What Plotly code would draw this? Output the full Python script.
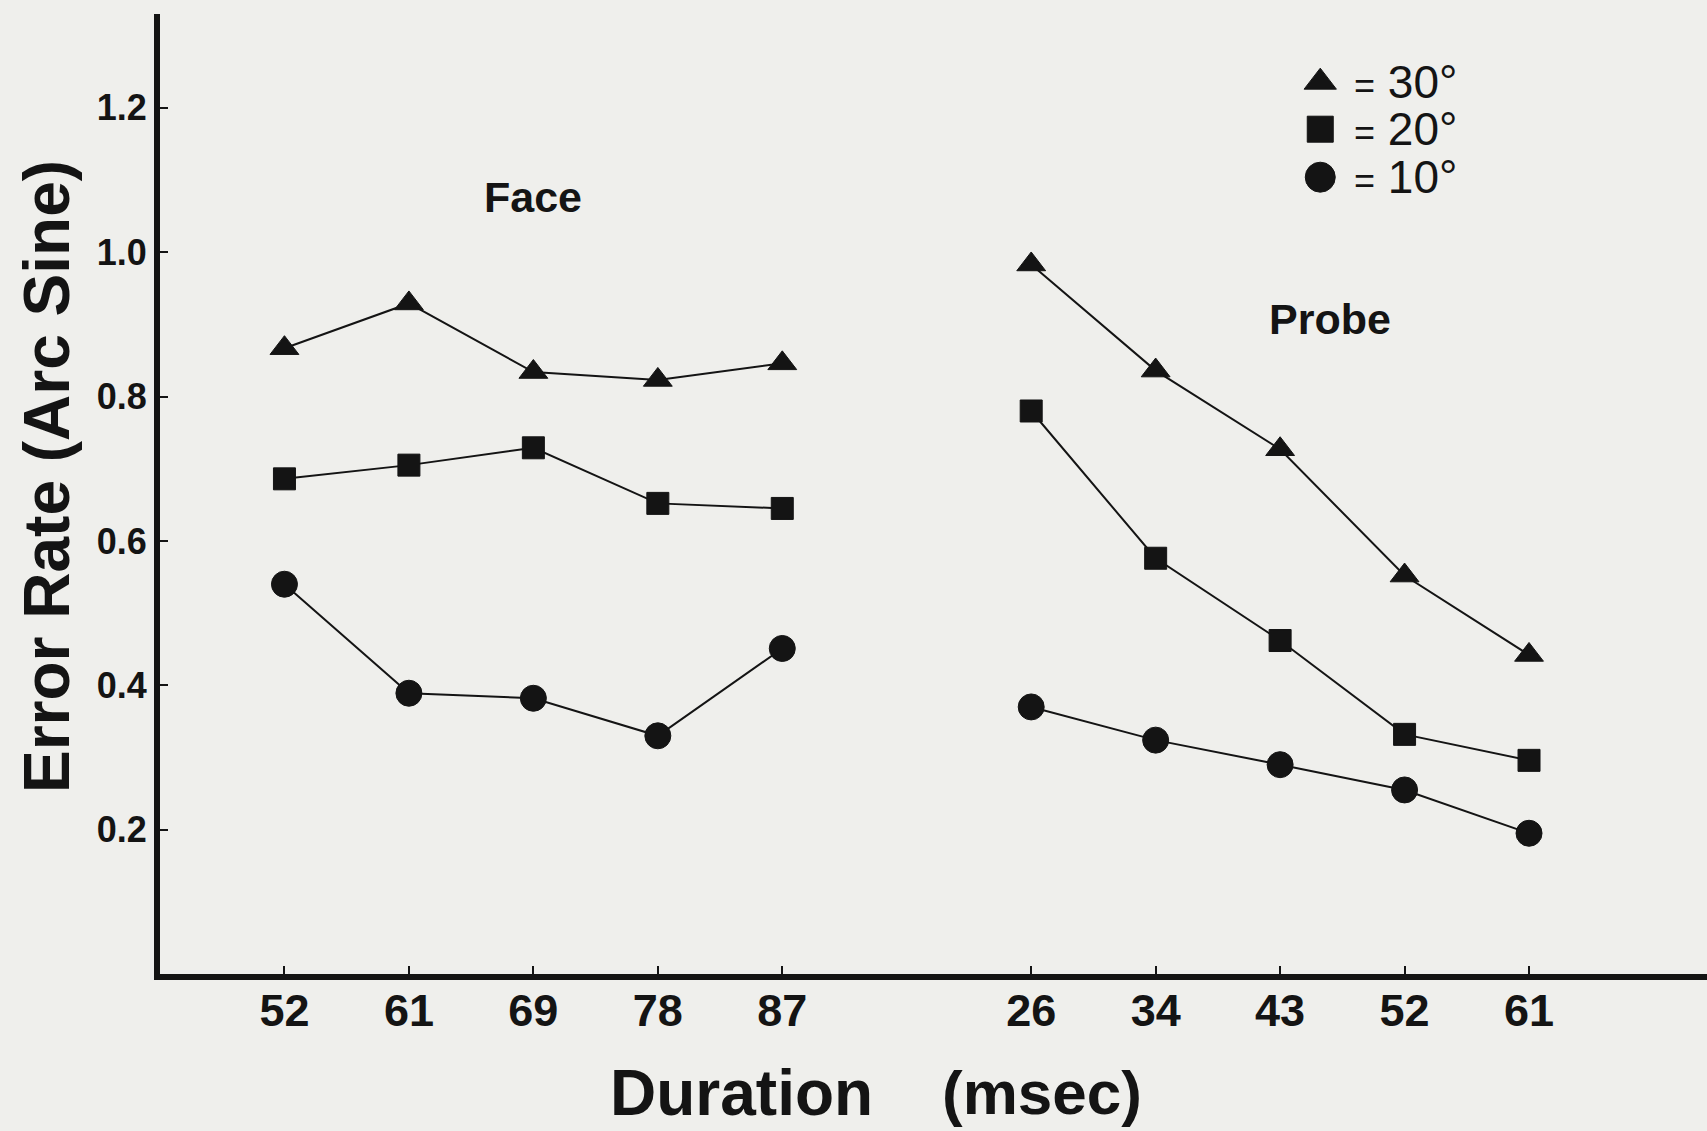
import plotly.graph_objects as go

# ---- data ----
face_durations = [52, 61, 69, 78, 87]
probe_durations = [26, 34, 43, 52, 61]

face_30 = [0.867, 0.929, 0.834, 0.823, 0.846]
face_20 = [0.686, 0.705, 0.729, 0.652, 0.645]
face_10 = [0.540, 0.389, 0.382, 0.330, 0.451]

probe_30 = [0.983, 0.836, 0.727, 0.552, 0.442]
probe_20 = [0.780, 0.576, 0.462, 0.332, 0.296]
probe_10 = [0.370, 0.324, 0.290, 0.255, 0.195]

angle_labels = ["30°", "20°", "10°"]
y_tick_values = [0.2, 0.4, 0.6, 0.8, 1.0, 1.2]

# slot positions on the axis (Face group, gap, Probe group)
face_slots = [1, 2, 3, 4, 5]
probe_slots = [7, 8, 9, 10, 11]

INK = "#141414"
BG = "#efefec"
FONT = "Liberation Sans, Arial, sans-serif"

symbols = ["triangle-up", "square", "circle"]
sizes = [25, 22, 26]
legend_sizes = [28, 26, 30]

face_series = [face_30, face_20, face_10]
probe_series = [probe_30, probe_20, probe_10]

fig = go.Figure()

for sym, sz, fvals, pvals in zip(symbols, sizes, face_series, probe_series):
    for slots, vals in ((face_slots, fvals), (probe_slots, pvals)):
        fig.add_trace(go.Scatter(
            x=slots, y=vals, mode="lines+markers",
            line=dict(color=INK, width=2),
            marker=dict(symbol=sym, size=sz, color=INK,
                        line=dict(color=INK, width=1)),
            showlegend=False, hoverinfo="skip",
        ))

# ---- custom legend (overlay axes in 0..1 units) ----
legend_x = 0.750
legend_y = [0.929, 0.880, 0.830]
for sym, sz, ly in zip(symbols, legend_sizes, legend_y):
    fig.add_trace(go.Scatter(
        x=[legend_x], y=[ly], mode="markers", xaxis="x2", yaxis="y2",
        marker=dict(symbol=sym, size=sz, color=INK, line=dict(color=INK, width=1)),
        showlegend=False, hoverinfo="skip",
    ))

annotations = []
for lab, ly in zip(angle_labels, legend_y):
    annotations.append(dict(
        xref="paper", yref="paper", x=0.7705, y=ly, xanchor="left", yanchor="middle",
        text="<span style='font-size:36px'>=</span> " + lab,
        showarrow=False, font=dict(family=FONT, size=46, color=INK),
    ))

# group labels
annotations.append(dict(x=3.00, y=1.076, xref="x", yref="y", text="<b>Face</b>",
                        showarrow=False, font=dict(family=FONT, size=43, color=INK)))
annotations.append(dict(x=9.40, y=0.908, xref="x", yref="y", text="<b>Probe</b>",
                        showarrow=False, font=dict(family=FONT, size=43, color=INK)))

# axis titles
annotations.append(dict(xref="paper", yref="paper", x=-0.0735, y=0.518,
                        xanchor="center", yanchor="middle", textangle=-90,
                        text="<b>Error Rate (Arc Sine)</b>", showarrow=False,
                        font=dict(family=FONT, size=64, color=INK)))
annotations.append(dict(xref="paper", yref="paper", x=0.376, y=-0.1235,
                        xanchor="center", yanchor="middle",
                        text="<b>Duration</b>", showarrow=False,
                        font=dict(family=FONT, size=64, color=INK)))
annotations.append(dict(xref="paper", yref="paper", x=0.570, y=-0.1235,
                        xanchor="center", yanchor="middle",
                        text="<b>(msec)</b>", showarrow=False,
                        font=dict(family=FONT, size=62, color=INK)))

fig.update_layout(
    width=1707, height=1131,
    margin=dict(l=160, r=0, t=14, b=157),
    paper_bgcolor=BG, plot_bgcolor=BG,
    showlegend=False,
    annotations=annotations,
    xaxis=dict(
        range=[0, 12.43], showgrid=False, zeroline=False,
        showline=True, linecolor=INK, linewidth=6,
        tickmode="array", tickvals=face_slots + probe_slots,
        ticktext=["<b>%d</b>" % d for d in face_durations + probe_durations],
        ticks="inside", ticklen=8, tickwidth=2, tickcolor=INK,
        ticklabelstandoff=-8,
        tickfont=dict(family=FONT, size=45, color=INK), fixedrange=True,
    ),
    yaxis=dict(
        range=[0, 1.330], showgrid=False, zeroline=False,
        showline=True, linecolor=INK, linewidth=6,
        tickmode="array", tickvals=y_tick_values,
        ticktext=["<b>%.1f</b>" % v for v in y_tick_values],
        ticks="inside", ticklen=8, tickwidth=2, tickcolor=INK,
        tickfont=dict(family=FONT, size=36, color=INK), fixedrange=True,
    ),
    xaxis2=dict(range=[0, 1], overlaying="x", visible=False, fixedrange=True),
    yaxis2=dict(range=[0, 1], overlaying="y", visible=False, fixedrange=True),
)

fig.write_html(
    "out.html",
    config={"displayModeBar": False},
    post_script=(
        "document.documentElement.style.margin='0';"
        "document.body.style.margin='0';"
        "document.body.style.overflow='hidden';"
        "document.body.style.background='" + BG + "';"
    ),
)
